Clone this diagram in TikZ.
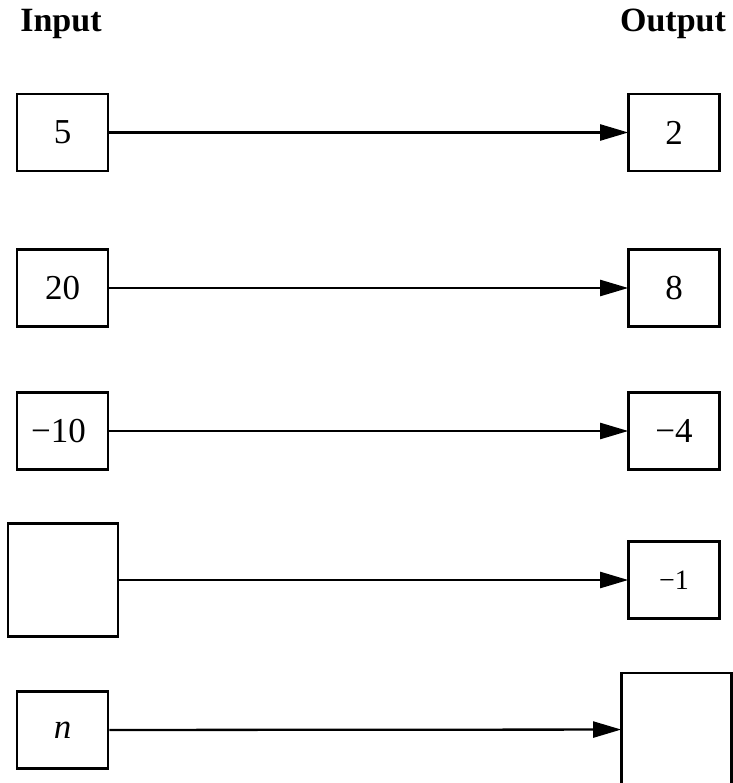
\documentclass[tikz,border=0pt]{standalone}
\usepackage{fontspec}
\setmainfont{Liberation Serif}
\usetikzlibrary{arrows.meta}
\begin{document}
\begin{tikzpicture}[x=1pt,y=-1pt,
  box/.style={draw, line width=2.6pt, inner sep=0pt, minimum width=91pt, minimum height=77pt, font=\fontsize{35}{38}\selectfont},
  bigbox/.style={draw, line width=2.6pt, inner sep=0pt, minimum width=110pt, minimum height=113pt},
  title/.style={font=\fontsize{34}{37}\selectfont\bfseries},
  conn/.style={line width=2.3pt, -{Triangle[length=28pt,width=16pt]}, shorten >=-1pt}]
\useasboundingbox (0,0) rectangle (732,783);
\node[title] (tin) at (61,24) {Input};
\node[title] (tout) at (673,24) {Output};
\node[box] (i1) at (62.5,132.5) {5};
\node[box] (o1) at (674,132.5) {2};
\node[box] (i2) at (62.5,288) {20};
\node[box] (o2) at (674,288) {8};
\node[box] (i3) at (62.5,431) {\kern-8pt−10};
\node[box] (o3) at (674,431) {−4};
\node[bigbox] (i4) at (63,580) {};
\node[box] (o4) at (674,580) {\fontsize{28}{30}\selectfont −1};
\node[box] (i5) at (62.5,730) {\textit{n}};
\node[bigbox] (o5) at (676.5,729.5) {};
\draw[conn] (i1) -- (o1);
\draw[conn] (i2) -- (o2);
\draw[conn] (i3) -- (o3);
\draw[conn] (i4) -- (o4);
\draw[conn] (i5) -- (o5);
\end{tikzpicture}
\end{document}
